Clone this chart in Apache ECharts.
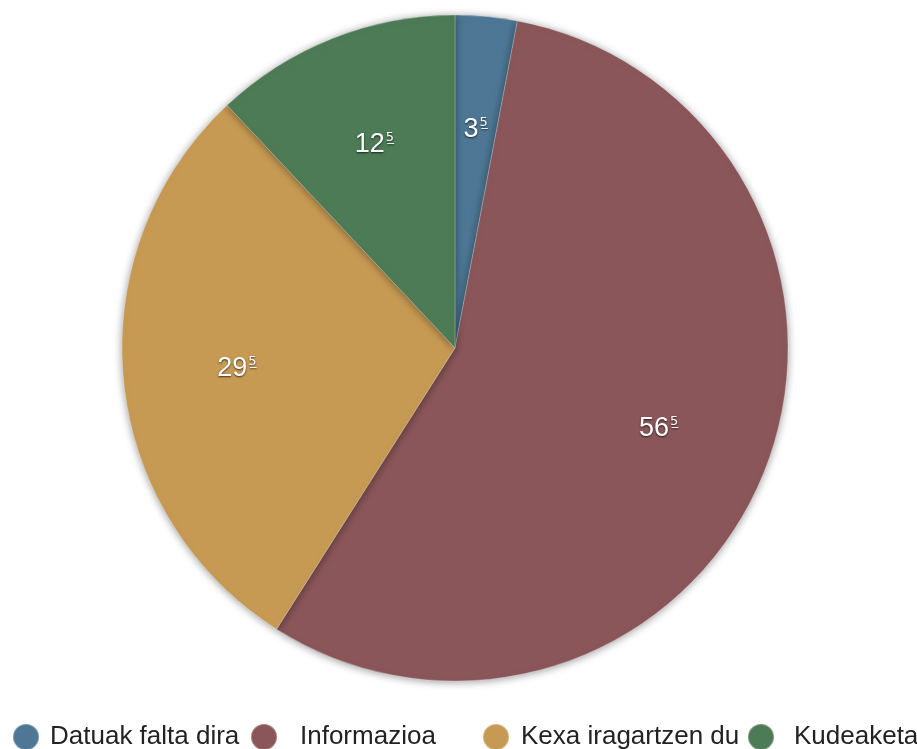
<!DOCTYPE html>
<html>
<head>
<meta charset="utf-8">
<script src="https://cdn.jsdelivr.net/npm/echarts@6/dist/echarts.min.js"></script>
<style>
  html, body { margin: 0; padding: 0; background: #fff; }
  #chart { width: 917px; height: 749px; }
</style>
</head>
<body>
<div id="chart"></div>
<script>
  // slices, clockwise from 12 o'clock
  var categories = ['Datuak falta dira', 'Informazioa', 'Kexa iragartzen du', 'Kudeaketa'];
  var values = [3, 56, 29, 12];
  var labelSup = '5';
  var colors = ['#4d7795', '#8a5659', '#c79a54', '#4c7b56'];

  // legend item placement (icon left x, gap between icon and text)
  var legendLeft = [12, 250, 482, 747];
  var legendGap = [11, 23, 12, 20];

  var chart = echarts.init(document.getElementById('chart'));

  var pieData = categories.map(function (name, i) {
    return { name: name, value: values[i], itemStyle: { color: colors[i] } };
  });

  var labelData = categories.map(function (name, i) {
    return { name: name, value: values[i] };
  });

  var legends = categories.map(function (name, i) {
    return {
      data: [name],
      left: legendLeft[i],
      top: 723,
      padding: 0,
      icon: 'circle',
      itemWidth: 26,
      itemHeight: 26,
      itemGap: 0,
      selectedMode: false,
      textStyle: {
        fontFamily: 'Liberation Sans',
        fontSize: 26,
        color: '#222',
        padding: [0, 0, 0, legendGap[i] - 5]
      }
    };
  });

  var supStyle = {
    fontFamily: 'DejaVu Sans',
    fontSize: 13,
    color: '#fff',
    verticalAlign: 'top',
    padding: [0, 0, 12, 1],
    textShadowColor: 'rgba(0,0,0,0.7)',
    textShadowBlur: 2,
    textShadowOffsetY: 1
  };

  var option = {
    backgroundColor: '#fff',
    animation: false,
    color: colors,
    legend: legends,
    series: [
      {
        name: 'pie',
        type: 'pie',
        center: [455, 348],
        radius: [0, 333],
        startAngle: 90,
        clockwise: true,
        label: { show: false },
        labelLine: { show: false },
        itemStyle: {
          borderColor: 'rgba(255,255,255,0.25)',
          borderWidth: 1,
          shadowBlur: 8,
          shadowColor: 'rgba(0,0,0,0.4)',
          shadowOffsetY: 1
        },
        emphasis: { disabled: true },
        data: pieData
      },
      {
        // transparent ring only to place labels at ~2/3 radius
        name: 'labels',
        type: 'pie',
        center: [455, 348],
        radius: [191, 241],
        startAngle: 90,
        clockwise: true,
        silent: true,
        itemStyle: { color: 'rgba(0,0,0,0)' },
        labelLine: { show: false },
        emphasis: { disabled: true },
        label: {
          show: true,
          position: 'inside',
          formatter: function (p) {
            return '{n|' + p.value + '}{s|' + labelSup + '\u0332}';
          },
          rich: {
            n: {
              fontFamily: 'Liberation Sans',
              fontSize: 27,
              color: '#fff',
              textShadowColor: 'rgba(0,0,0,0.7)',
              textShadowBlur: 2,
              textShadowOffsetY: 1
            },
            s: supStyle
          }
        },
        data: labelData
      }
    ]
  };

  chart.setOption(option);
</script>
</body>
</html>
